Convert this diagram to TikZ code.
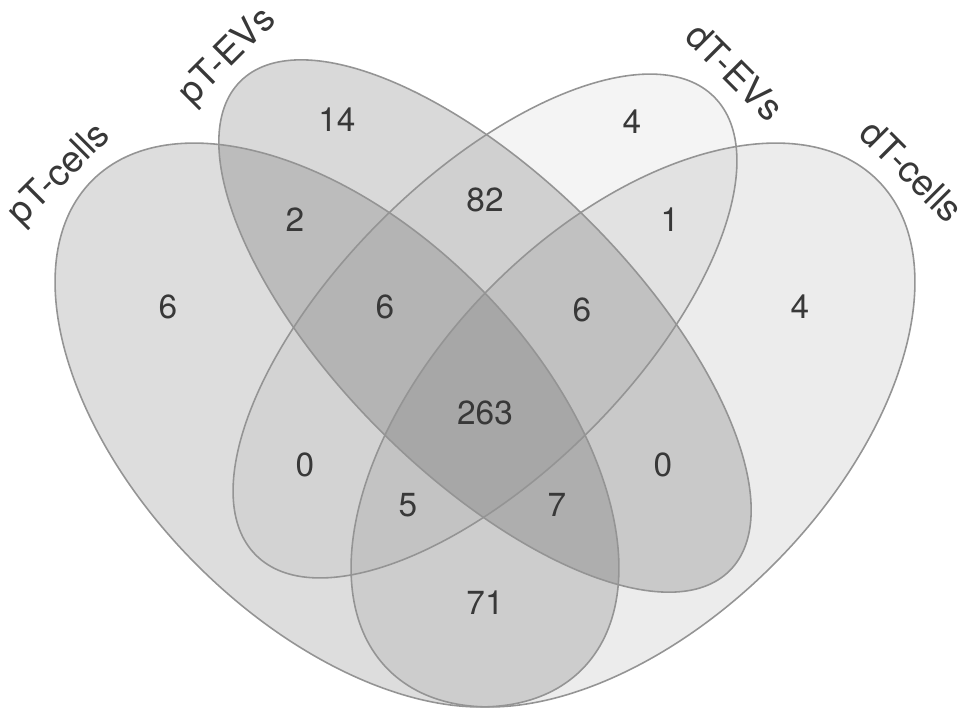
\documentclass[tikz,border=0pt]{standalone}
\usepackage{fontspec}
\setmainfont{TeX Gyre Heros}
\begin{document}
\begin{tikzpicture}[
  num/.style={text=black!78, font=\fontsize{9.5}{11}\selectfont},
  setname/.style={text=black!78, font=\fontsize{10.5}{12}\selectfont},
  setfill/.style={fill=black, fill opacity=#1},
  setline/.style={draw=black!42, line width=0.45pt}]
  \useasboundingbox (0,0) rectangle (9.69,-7.18);
  \coordinate (pc) at (3.37,-4.25);
  \coordinate (ev) at (4.85,-3.26);
  \coordinate (dc) at (6.33,-4.25);
  \fill[setfill=0.135, rotate around={-45:(pc)}] (pc) ellipse (3.46 and 1.98);
  \fill[setfill=0.15, rotate around={-45:(ev)}] (ev) ellipse (3.46 and 1.48);
  \fill[setfill=0.045, rotate around={45:(ev)}] (ev) ellipse (3.24 and 1.48);
  \fill[setfill=0.075, rotate around={45:(dc)}] (dc) ellipse (3.46 and 1.98);
  \draw[setline, rotate around={-45:(pc)}] (pc) ellipse (3.46 and 1.98);
  \draw[setline, rotate around={-45:(ev)}] (ev) ellipse (3.46 and 1.48);
  \draw[setline, rotate around={45:(ev)}] (ev) ellipse (3.24 and 1.48);
  \draw[setline, rotate around={45:(dc)}] (dc) ellipse (3.46 and 1.98);
  \node[setname, rotate=45] at (0.60,-1.75) (pTcells) {pT-cells};
  \node[setname, rotate=45] at (2.28,-0.57) (pTEVs) {pT-EVs};
  \node[setname, rotate=-45] at (7.35,-0.72) (dTEVs) {dT-EVs};
  \node[setname, rotate=-45] at (9.12,-1.71) (dTcells) {dT-cells};
  \node[num] at (1.68,-3.07) (a) {6};
  \node[num] at (3.37,-1.20) (b) {14};
  \node[num] at (6.32,-1.22) (c) {4};
  \node[num] at (8.00,-3.07) (d) {4};
  \node[num] at (2.95,-2.20) (ab) {2};
  \node[num] at (4.85,-2.00) (bc) {82};
  \node[num] at (6.70,-2.20) (cd) {1};
  \node[num] at (3.85,-3.07) (abc) {6};
  \node[num] at (5.82,-3.10) (bcd) {6};
  \node[num] at (4.85,-4.13) (abcd) {263};
  \node[num] at (3.05,-4.65) (ac) {0};
  \node[num] at (6.63,-4.65) (bd) {0};
  \node[num] at (4.08,-5.05) (acd) {5};
  \node[num] at (5.57,-5.05) (abd) {7};
  \node[num] at (4.85,-6.03) (ad) {71};
\end{tikzpicture}
\end{document}
